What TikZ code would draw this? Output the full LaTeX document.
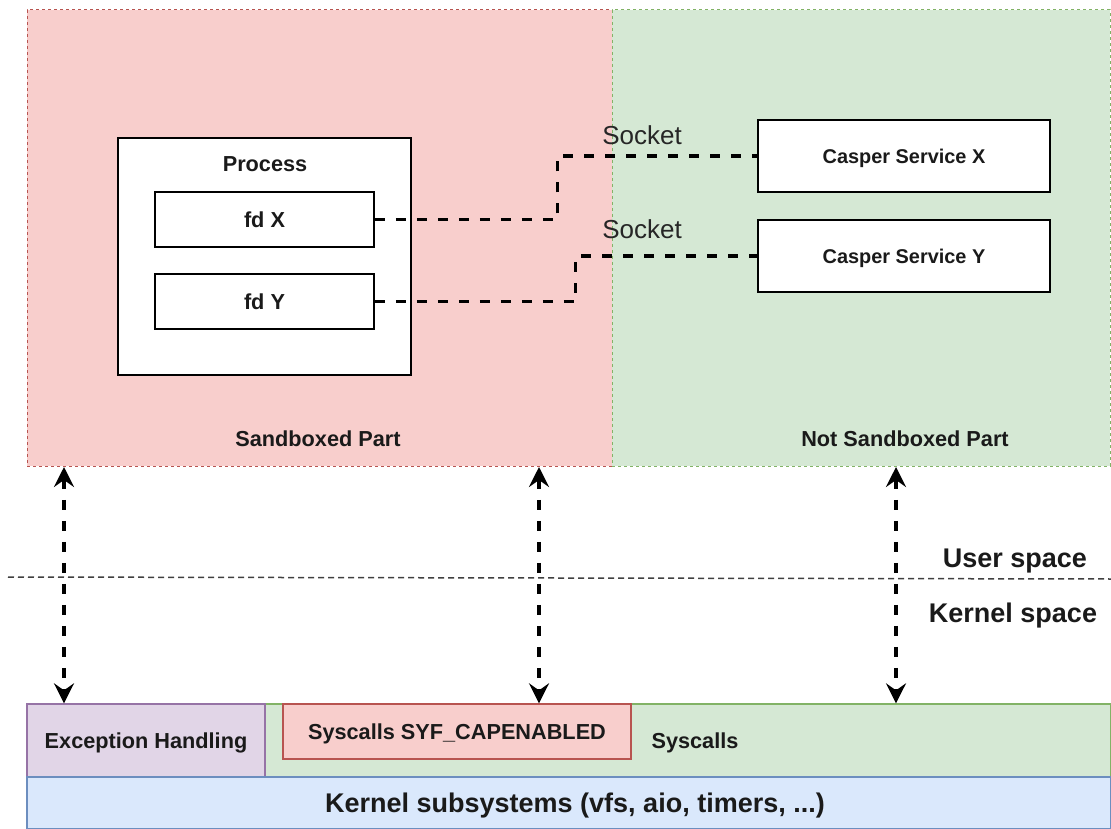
\documentclass[tikz,border=0pt]{standalone}
\usepackage{fontspec}
\setmainfont{Liberation Sans}
\usetikzlibrary{arrows.meta}
\definecolor{redfill}{HTML}{F8CECC}
\definecolor{redline}{HTML}{B85450}
\definecolor{greenfill}{HTML}{D5E8D4}
\definecolor{greenline}{HTML}{82B366}
\definecolor{purplefill}{HTML}{E1D5E7}
\definecolor{purpleline}{HTML}{9673A6}
\definecolor{bluefill}{HTML}{DAE8FC}
\definecolor{blueline}{HTML}{6C8EBF}
\definecolor{txt}{HTML}{1A1A1A}
\tikzset{
  region/.style={draw, line width=1pt, dash pattern=on 3pt off 3pt, inner sep=0pt},
  whitebox/.style={draw=black, fill=white, line width=1.6pt, inner sep=0pt},
  btxt/.style={text=txt, text depth=0pt, font=\fontsize{21.7}{26}\selectfont\bfseries},
  ctxt/.style={text=txt, text depth=0pt, font=\fontsize{19.9}{24}\selectfont\bfseries},
  bigtxt/.style={text=txt, text depth=0pt, font=\fontsize{27}{32}\selectfont\bfseries},
  socktxt/.style={text=black!85, font=\fontsize{26}{30}\selectfont},
  sock/.style={draw=black, line width=3.2pt, dash pattern=on 10pt off 11pt},
  darr/.style={draw=black, line width=3.2pt, dash pattern=on 10pt off 11pt,
    {Stealth[length=20pt,width=20pt,inset=7pt]}-{Stealth[length=20pt,width=20pt,inset=7pt]}},
  sepline/.style={draw=black!75, line width=1.5pt, dash pattern=on 6pt off 4pt},
  kbox/.style={draw, line width=1.3pt, inner sep=0pt}
}
\begin{document}
\begin{tikzpicture}[x=1pt,y=-1pt]
\useasboundingbox (0,0) rectangle (1111,829);
% regions
\node[region, draw=redline, fill=redfill, minimum width=585pt, minimum height=456pt] (sand) at (319.5,238) {};
\node[region, draw=greenline, fill=greenfill, minimum width=498pt, minimum height=456pt] (nsand) at (861,238) {};
\node[btxt] (sandlbl) at (318,439) {Sandboxed Part};
\node[btxt] (nsandlbl) at (905,439) {Not Sandboxed Part};
% process
\node[whitebox, minimum width=293pt, minimum height=237pt] (proc) at (264.5,256.5) {};
\node[btxt] (proclbl) at (265,164) {Process};
\node[whitebox, minimum width=219pt, minimum height=55pt, btxt] (fdx) at (264.5,219.5) {fd X};
\node[whitebox, minimum width=219pt, minimum height=55pt, btxt] (fdy) at (264.5,301.5) {fd Y};
% services
\node[whitebox, minimum width=292pt, minimum height=72pt, ctxt] (casx) at (904,156) {Casper Service X};
\node[whitebox, minimum width=292pt, minimum height=72pt, ctxt] (casy) at (904,256) {Casper Service Y};
% sockets
\draw[sock] (fdx.east) -- ++(183,0) |- (casx.west);
\draw[sock] (fdy.east) -- ++(201,0) |- (casy.west);
\node[socktxt] (s1) at (642,135) {Socket};
\node[socktxt] (s2) at (642,229) {Socket};
% user / kernel separator
\coordinate (sepl) at (8,577);
\coordinate (sepr) at (1111,579);
\draw[sepline] (sepl) -- (sepr);
\node[bigtxt] (ulbl) at (1015,558) {User space};
\node[bigtxt] (klbl) at (1013,613) {Kernel space};
% kernel boxes
\node[kbox, draw=greenline, fill=greenfill, minimum width=846pt, minimum height=73pt, btxt] (sys) at (688,740.5) {\hspace*{14pt}Syscalls};
\node[kbox, draw=purpleline, fill=purplefill, minimum width=238pt, minimum height=73pt, btxt] (exc) at (146,740.5) {Exception Handling};
\node[kbox, draw=redline, fill=redfill, minimum width=348pt, minimum height=55pt, btxt] (syf) at (457,731.5) {Syscalls SYF\_CAPENABLED};
\node[kbox, draw=blueline, fill=bluefill, minimum width=1084pt, minimum height=52pt, bigtxt] (kern) at (569,803) {\hspace*{12pt}Kernel subsystems (vfs, aio, timers, ...)};
% arrows
\coordinate (a1) at (64,467);
\coordinate (a2) at (539,467);
\coordinate (a3) at (896,467);
\draw[darr] (a1) -- (a1 |- exc.north);
\draw[darr] (a2) -- (a2 |- syf.north);
\draw[darr] (a3) -- (a3 |- sys.north);
\end{tikzpicture}
\end{document}
